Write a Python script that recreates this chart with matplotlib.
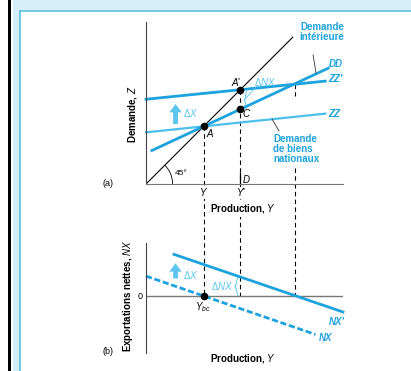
import matplotlib
matplotlib.use('Agg')
import matplotlib.pyplot as plt
from matplotlib.patches import Rectangle, Arc, PathPatch
from matplotlib.path import Path
from matplotlib.lines import Line2D

plt.rcParams['font.family'] = ['Liberation Sans', 'DejaVu Sans']
plt.rcParams['mathtext.fontset'] = 'custom'
plt.rcParams['mathtext.it'] = 'Liberation Sans:italic'
plt.rcParams['mathtext.rm'] = 'Liberation Sans'

# production levels
y_eq = 2.93      # Y
y_eq2 = 4.79     # Y'
y_new = 7.55     # ZZ' meets DD, NX' = 0

# panel (a) lines
line45_x = [0, 7.45]
line45_y = [0, 7.45]
zz_x = [0, 9.1]
zz_y = [2.62, 3.57]
zzp_x = [0, 9.1]
zzp_y = [4.3, 5.22]
dd_x = [0.3, 9.25]
dd_y = [1.70, 5.875]
pts_x = [y_eq, y_eq2, y_eq2]      # A, A', C
pts_y = [2.93, 4.785, 3.80]
top_y = 5.06                      # where ZZ' crosses DD

# panel (b) lines
nxp_x = [1.42, 10.0]
nxp_y = [2.115, -0.81]
nx_x = [0, 8.6]
nx_y = [1.01, -1.95]
nxp_at_y2 = 0.95

blue = '#1ca3dd'
light = '#4dbfec'
pale = '#5cc6ef'

fig = plt.figure(figsize=(4.11, 3.71), dpi=100)


def fx(px):
    return px / 411


def fy(py):
    return 1 - py / 371


# frame of the page
fig.add_artist(Rectangle((fx(8), 0), fx(3), 1, transform=fig.transFigure, color='black', lw=0))
fig.add_artist(Rectangle((fx(13), 0), fx(6.5), 1, transform=fig.transFigure, color='#d5eefa', lw=0))
fig.add_artist(Rectangle((fx(13), fy(10)), 1, 1, transform=fig.transFigure, color='#d5eefa', lw=0))
fig.add_artist(Line2D([fx(19.5), fx(19.5)], [0, fy(10.5)], transform=fig.transFigure, color='#62c6e2', lw=1.3))
fig.add_artist(Line2D([fx(19.5), 1], [fy(10.5), fy(10.5)], transform=fig.transFigure, color='#62c6e2', lw=1.3))

ax = fig.add_axes([fx(146), fy(184), fx(343) - fx(146), fy(22) - fy(184)])
bx = fig.add_axes([fx(146), fy(353), fx(343) - fx(146), fy(243) - fy(353)])
ax.set_xlim(0, 10)
ax.set_ylim(0, 8.22)
bx.set_xlim(0, 10)
bx.set_ylim(-2.89, 2.69)
for a in (ax, bx):
    a.set_xticks([])
    a.set_yticks([])
    a.patch.set_alpha(0)
    for s in ('top', 'right'):
        a.spines[s].set_visible(False)
    a.spines['left'].set_color('#444444')
    a.spines['bottom'].set_color('#777777')
bx.spines['bottom'].set_visible(False)
bx.axhline(0, color='#777777', lw=1)


def brace(a, x, y0, y1, w, color):
    ym = (y0 + y1) / 2
    verts = [(x + w, y1), (x + w / 2, y1), (x + w / 2, ym), (x, ym),
             (x + w / 2, ym), (x + w / 2, y0), (x + w, y0)]
    codes = [Path.MOVETO] + [Path.CURVE4] * 6
    a.add_patch(PathPatch(Path(verts, codes), fc='none', ec=color, lw=0.7, clip_on=False))


# dashed guides running down into panel (b), drawn in panel (a) coordinates
zero_b = ax.transData.inverted().transform(bx.transData.transform((0, 0)))[1]
dash = dict(color='black', lw=0.8, linestyle=(0, (4, 3)), clip_on=False, zorder=1)
ax.plot([y_eq, y_eq], [pts_y[0], zero_b], **dash)
ax.plot([y_eq2, y_eq2], [pts_y[1], zero_b], **dash)
# the third guide is hidden behind the label block
ax.plot([y_new, y_new], [top_y, 4.45], **dash)
ax.plot([y_new, y_new], [0.8, zero_b], **dash)
ax.plot([y_eq2, y_eq2], [0, 0.55], color='black', lw=0.9)

# panel (a)
ax.plot(line45_x, line45_y, color='black', lw=0.8)
ax.plot(zz_x, zz_y, color=light, lw=1.6, clip_on=False)
ax.plot(zzp_x, zzp_y, color=blue, lw=2.0, clip_on=False)
ax.plot(dd_x, dd_y, color=blue, lw=2.0, clip_on=False)
ax.plot(pts_x, pts_y, 'o', color='black', ms=4.5, zorder=5)
ax.add_patch(Arc((0, 0), 2.7, 2.7, theta1=0, theta2=45, color='black', lw=0.6))

it = dict(style='italic', fontsize=7)
wb = dict(fc='white', ec='none', pad=0.6)
ax.text(3.25, 2.52, 'A', ha='center', va='center', **it)
ax.text(4.57, 5.1, "A'", ha='center', va='center', **it)
ax.text(5.08, 3.55, 'C', ha='center', va='center', **it)
ax.text(5.1, 0.22, 'D', ha='center', va='center', **it)
ax.text(1.8, 0.52, '45°', ha='center', va='center', fontsize=6)
ax.text(y_eq, -0.46, 'Y', ha='center', va='center', clip_on=False, bbox=wb, zorder=6, **it)
ax.text(y_eq2 + 0.05, -0.46, "Y'", ha='center', va='center', clip_on=False, bbox=wb, zorder=6, **it)
ax.text(4.92, -1.22, 'Production, $\\mathit{Y}$', ha='center', va='center', fontsize=7,
        weight='bold', bbox=dict(fc='white', ec='none', pad=1.5), zorder=6)

lab = dict(color=blue, weight='bold', fontsize=7, clip_on=False)
ax.text(8.93, 7.72, 'Demande\nintérieure', ha='center', va='center', linespacing=1.0, **lab)
ax.plot([8.48, 8.63], [6.55, 5.63], color='#333333', lw=0.6, clip_on=False)
ax.text(6.45, 1.78, 'Demande\nde biens\nnationaux', ha='left', va='center', linespacing=1.0, **lab)
ax.plot([6.4, 6.75], [3.29, 2.7], color='#333333', lw=0.6)
ax.text(9.26, 6.09, 'DD', ha='left', va='center', style='italic', **lab)
ax.text(9.26, 5.33, "ZZ'", ha='left', va='center', style='italic', **lab)
ax.text(9.26, 3.55, 'ZZ', ha='left', va='center', style='italic', **lab)

arrow = dict(arrowstyle='simple,head_width=0.9,head_length=0.6,tail_width=0.35', color=pale, lw=0)
ax.annotate('', xy=(1.5, 4.2), xytext=(1.5, 2.9), arrowprops=arrow)
ax.text(2.25, 3.6, '$\\Delta$$\\mathit{X}$', color=pale, fontsize=7, ha='center', va='center')
ax.text(6.04, 5.18, '$\\Delta$$\\mathit{NX}$', color=pale, fontsize=7, ha='center', va='center')
brace(ax, 4.98, 3.85, 4.7, 0.15, pale)
ax.plot([5.0, 5.6], [4.28, 4.95], color=pale, lw=0.6)

ax.text(-1.95, 0, '(a)', ha='center', va='center', fontsize=6.5, clip_on=False)
ax.text(-0.71, 3.55, 'Demande, $\\mathit{Z}$', rotation=90, ha='center', va='center',
        fontsize=7, weight='bold', clip_on=False)

# panel (b)
bx.plot(nxp_x, nxp_y, color=blue, lw=2.0, clip_on=False)
bx.plot(nx_x, nx_y, color=blue, lw=2.0, linestyle=(0, (2.2, 1.0)), clip_on=False)
bx.plot([y_eq], [0], 'o', color='black', ms=4.5, zorder=5)
bx.annotate('', xy=(1.5, 1.8), xytext=(1.5, 0.75), arrowprops=arrow)
bx.text(2.28, 1.07, '$\\Delta$$\\mathit{X}$', color=pale, fontsize=7, ha='center', va='center')
bx.text(3.88, 0.5, '$\\Delta$$\\mathit{NX}$', color=pale, fontsize=7, ha='center', va='center')
brace(bx, 4.5, 0.03, nxp_at_y2, 0.2, pale)
bx.text(y_eq - 0.05, -0.58, '$\\mathit{Y_{bc}}$', ha='center', va='center', fontsize=7)
bx.text(-0.28, 0, '0', ha='center', va='center', fontsize=6.5, clip_on=False)
bx.text(9.67, -1.32, "NX'", ha='center', va='center', style='italic', **lab)
bx.text(9.14, -2.13, 'NX', ha='center', va='center', style='italic', **lab)
bx.text(4.92, -3.15, 'Production, $\\mathit{Y}$', ha='center', va='center', fontsize=7,
        weight='bold', clip_on=False)
bx.text(-1.95, -2.8, '(b)', ha='center', va='center', fontsize=6.5, clip_on=False)
bx.text(-0.9, 0.0, 'Exportations nettes, $\\mathit{NX}$', rotation=90, ha='center', va='center',
        fontsize=7, weight='bold', clip_on=False)

fig.savefig('out.png', dpi=100)
